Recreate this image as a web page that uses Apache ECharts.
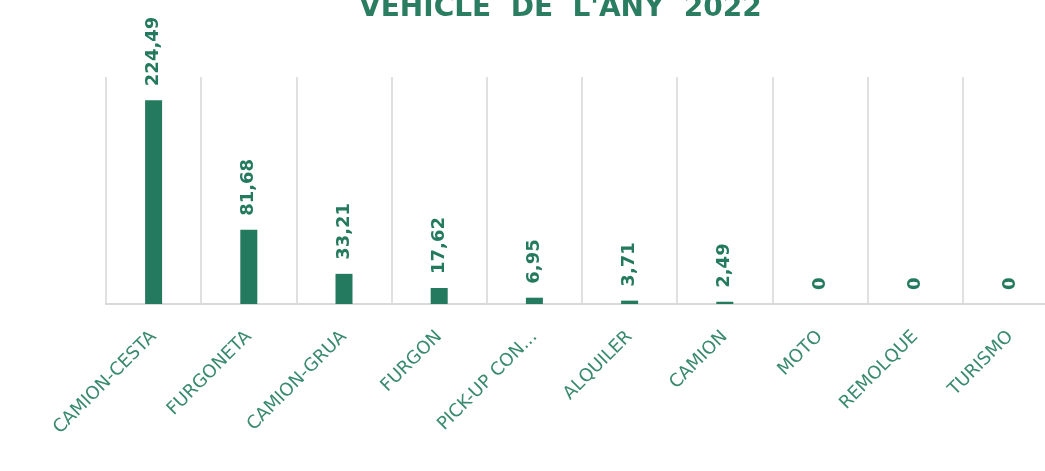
<!DOCTYPE html>
<html>
<head>
<meta charset="utf-8">
<script src="https://cdn.jsdelivr.net/npm/echarts@6/dist/echarts.min.js"></script>
<style>
  html, body { margin: 0; padding: 0; background: #fff; }
  #chart { width: 1045px; height: 471px; }
</style>
</head>
<body>
<div id="chart"></div>
<script>
const titleText = "VEHICLE  DE  L'ANY  2022";
const categories = ['CAMION-CESTA', 'FURGONETA', 'CAMION-GRUA', 'FURGON', 'PICK-UP CON...', 'ALQUILER', 'CAMION', 'MOTO', 'REMOLQUE', 'TURISMO'];
const values = [224.49, 81.68, 33.21, 17.62, 6.95, 3.71, 2.49, 0, 0, 0];

const green = '#247a5e';

const chart = echarts.init(document.getElementById('chart'));
chart.setOption({
  animation: false,
  title: {
    text: titleText,
    left: 354,
    top: -10,
    textStyle: {
      fontFamily: 'DejaVu Sans',
      fontWeight: 'bold',
      fontSize: 28,
      color: '#2b7d62'
    }
  },
  grid: {
    left: 106,
    right: -13,
    top: 77,
    bottom: 167,
    outerBoundsMode: 'none'
  },
  xAxis: {
    type: 'category',
    data: categories,
    axisTick: { show: false },
    axisLine: { lineStyle: { color: '#d9d9d9', width: 2 } },
    splitLine: { show: true, lineStyle: { color: '#e0e0e0', width: 2 } },
    axisLabel: {
      rotate: 45,
      margin: 30,
      interval: 0,
      fontFamily: 'DejaVu Sans',
      fontSize: 18,
      color: '#3a8a6e'
    }
  },
  yAxis: {
    type: 'value',
    min: 0,
    max: 250,
    show: false
  },
  series: [
    {
      type: 'bar',
      data: values,
      barWidth: 17,
      itemStyle: { color: green },
      label: {
        show: true,
        position: 'top',
        rotate: 90,
        align: 'left',
        verticalAlign: 'middle',
        distance: 14,
        fontFamily: 'DejaVu Sans',
        fontWeight: 'bold',
        fontSize: 18,
        color: green,
        formatter: p => String(p.value).replace('.', ',')
      }
    }
  ]
});
</script>
</body>
</html>
